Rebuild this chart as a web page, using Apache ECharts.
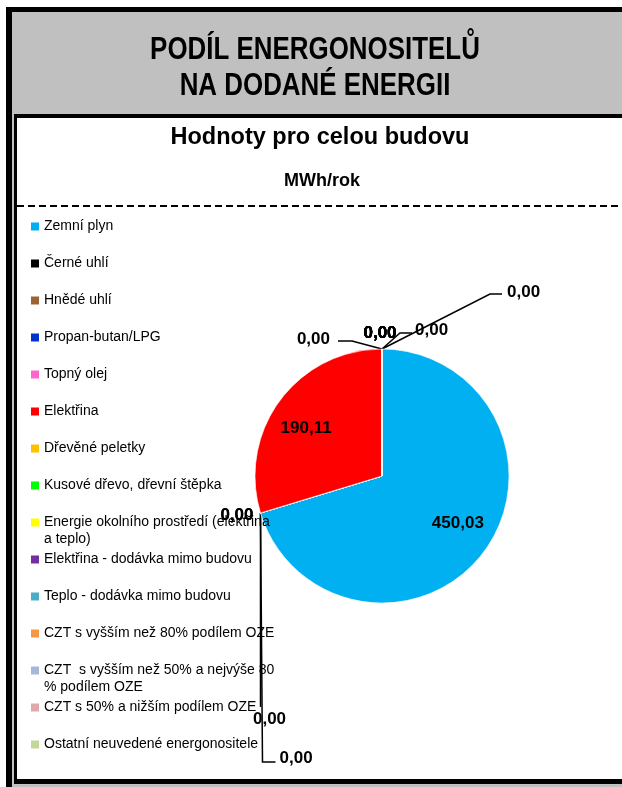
<!DOCTYPE html>
<html>
<head>
<meta charset="utf-8">
<script src="https://cdn.jsdelivr.net/npm/echarts@6/dist/echarts.min.js"></script>
<style>
html, body { margin: 0; padding: 0; background: #fff; }
#main { width: 622px; height: 787px; }
</style>
</head>
<body>
<div id="main"></div>
<script>
// energonositele - nazvy, hodnoty (MWh/rok), barvy
const nazvy = [
    'Zemní plyn',
    'Černé uhlí',
    'Hnědé uhlí',
    'Propan-butan/LPG',
    'Topný olej',
    'Elektřina',
    'Dřevěné peletky',
    'Kusové dřevo, dřevní štěpka',
    'Energie okolního prostředí (elektřina a teplo)',
    'Elektřina - dodávka mimo budovu',
    'Teplo - dodávka mimo budovu',
    'CZT s vyšším než 80% podílem OZE',
    'CZT  s vyšším než 50% a nejvýše 80 % podílem OZE',
    'CZT s 50% a nižším podílem OZE',
    'Ostatní neuvedené energonositele'
];
const hodnoty = [450.03, 0, 0, 0, 0, 190.11, 0, 0, 0, 0, 0, 0, 0, 0, 0];
const barvy = [
    '#00B0F0', '#000000', '#996633', '#0033CC', '#FF66CC',
    '#FF0000', '#FFC000', '#00FF00', '#FFFF00', '#7030A0',
    '#4BACC6', '#F79646', '#A6B7D8', '#DDA9A9', '#C4D79B'
];
const nadpis = ['PODÍL ENERGONOSITELŮ', 'NA DODANÉ ENERGII'];
const podnadpis = 'Hodnoty pro celou budovu';
const jednotka = 'MWh/rok';

// rozmisteni popisku nulovych vysecí (posun vuci kotve na obvodu) - jako v Excelu
// [dx popisku, dy popisku, zarovnani, body vodici cary...]
const popiskyNula = {
    1: [-7, 2, 'right', []],
    2: [-7, 2, 'right', []],
    3: [9, 206, 'center', [[0, 194]]],
    4: [19, 245, 'left', [[2, 249], [15, 249]]],
    6: [125, -57, 'left', [[108, -55], [120, -55]]],
    7: [33, -19, 'left', [[18, -16], [30, -16]]],
    8: [-2, -16, 'center', []],
    9: [-2, -16, 'center', []],
    10: [-2, -16, 'center', []],
    11: [-2, -16, 'center', []],
    12: [-2, -16, 'center', []],
    13: [-2, -16, 'center', []],
    14: [-52, -10, 'right', [[-30, -8], [-44, -8]]]
};

const font = 'Liberation Sans, Arial, Helvetica, sans-serif';
const chart = echarts.init(document.getElementById('main'));
const fmt = p => p.value.toFixed(2).replace('.', ',');

// zalamovani textu legendy podle skutecne sirky (jako v Excelu)
const mereni = document.createElement('canvas').getContext('2d');
mereni.font = '14px ' + font;
function zalom(text, maxSirka) {
    const slova = text.split(' ');
    const radky = [];
    let radek = null;
    slova.forEach(s => {
        const zkus = radek === null ? s : radek + ' ' + s;
        if (radek !== null && mereni.measureText(zkus).width > maxSirka) {
            radky.push(radek);
            radek = s;
        } else {
            radek = zkus;
        }
    });
    radky.push(radek);
    return radky;
}

// polozky legendy: ikona u prvniho radku, rozestup 37 px
const legendaY = 225, legendaKrok = 37, legendaRadek = 17;
const legendy = nazvy.map((n, i) => {
    const radky = zalom(n, 234);
    const text = new Array(radky.length - 1).fill(' ').concat(radky).join('\n');
    const pocet = 2 * radky.length - 1;
    return {
        orient: 'vertical',
        left: 31,
        top: legendaY + legendaKrok * i - (pocet - 1) / 2 * legendaRadek - 7,
        padding: 0,
        icon: 'rect',
        itemWidth: 8,
        itemHeight: 8,
        data: [n],
        selectedMode: false,
        itemStyle: { borderWidth: 0 },
        formatter: () => text,
        textStyle: { fontFamily: font, fontSize: 14, color: '#000', lineHeight: legendaRadek }
    };
});

const option = {
    backgroundColor: '#ffffff',
    animation: false,
    graphic: [
        // ramecek
        { type: 'rect', z: -10, shape: { x: 6, y: 7, width: 616, height: 780 }, style: { fill: '#000' } },
        { type: 'rect', z: -9, shape: { x: 12, y: 12, width: 610, height: 775 }, style: { fill: '#c0c0c0' } },
        { type: 'rect', z: -8, shape: { x: 14, y: 114, width: 608, height: 670 }, style: { fill: '#000' } },
        { type: 'rect', z: -7, shape: { x: 17, y: 118, width: 605, height: 661 }, style: { fill: '#fff' } },
        { type: 'line', z: -6, shape: { x1: 17, y1: 206, x2: 622, y2: 206 },
          style: { stroke: '#000', lineWidth: 2, lineDash: [7, 4] } },
        // nadpis (uzke pismo)
        { type: 'group', x: 315, y: 50, scaleX: 0.81, children: [
            { type: 'text', style: { text: nadpis[0], x: 0, y: 0, align: 'center', verticalAlign: 'middle',
              font: 'bold 32px ' + font, fill: '#000' } }
        ] },
        { type: 'group', x: 315, y: 86, scaleX: 0.81, children: [
            { type: 'text', style: { text: nadpis[1], x: 0, y: 0, align: 'center', verticalAlign: 'middle',
              font: 'bold 32px ' + font, fill: '#000' } }
        ] },
        { type: 'text', style: { text: podnadpis, x: 320, y: 138, align: 'center', verticalAlign: 'middle',
          font: 'bold 23.5px ' + font, fill: '#000' } },
        { type: 'text', style: { text: jednotka, x: 322, y: 181, align: 'center', verticalAlign: 'middle',
          font: 'bold 18px ' + font, fill: '#000' } }
    ],
    legend: legendy,
    series: [
        {
            type: 'pie',
            center: [382, 476],
            radius: 127,
            startAngle: 90,
            clockwise: true,
            avoidLabelOverlap: false,
            data: nazvy.map((n, i) => ({
                name: n, value: hodnoty[i], itemStyle: { color: barvy[i] },
                label: { show: hodnoty[i] === 0 },
                labelLine: { show: hodnoty[i] === 0 }
            })),
            itemStyle: { borderColor: '#fff', borderWidth: 0.6 },
            label: {
                position: 'outside',
                color: '#000',
                fontFamily: font,
                fontWeight: 'bold',
                fontSize: 17,
                formatter: fmt
            },
            labelLine: {
                length: 20,
                length2: 10,
                lineStyle: { color: '#000', width: 1.5 }
            },
            labelLayout: function (params) {
                const s = popiskyNula[params.dataIndex];
                if (!s || !params.labelLinePoints) return {};
                const a = params.labelLinePoints[0];
                const body = [[a[0], a[1]]].concat(s[3].map(b => [a[0] + b[0], a[1] + b[1]]));
                while (body.length < 3) body.push(body[body.length - 1].slice());
                return {
                    x: a[0] + s[0],
                    y: a[1] + s[1],
                    align: s[2],
                    verticalAlign: 'middle',
                    labelLinePoints: body
                };
            },
            emphasis: { disabled: true }
        },
        {
            // hodnoty uvnitr nenulovych vysecí (Excel je posouva mirne proti smeru hodin)
            type: 'pie',
            center: [382, 476],
            radius: [46, 127],
            startAngle: 94.5,
            clockwise: true,
            silent: true,
            data: nazvy.map((n, i) => ({
                name: n, value: hodnoty[i],
                itemStyle: { color: 'transparent' },
                label: { show: hodnoty[i] > 0 }
            })),
            label: {
                position: 'inside',
                color: '#000',
                fontFamily: font,
                fontWeight: 'bold',
                fontSize: 17,
                formatter: fmt
            },
            labelLine: { show: false },
            emphasis: { disabled: true }
        }
    ]
};
chart.setOption(option);
</script>
</body>
</html>
